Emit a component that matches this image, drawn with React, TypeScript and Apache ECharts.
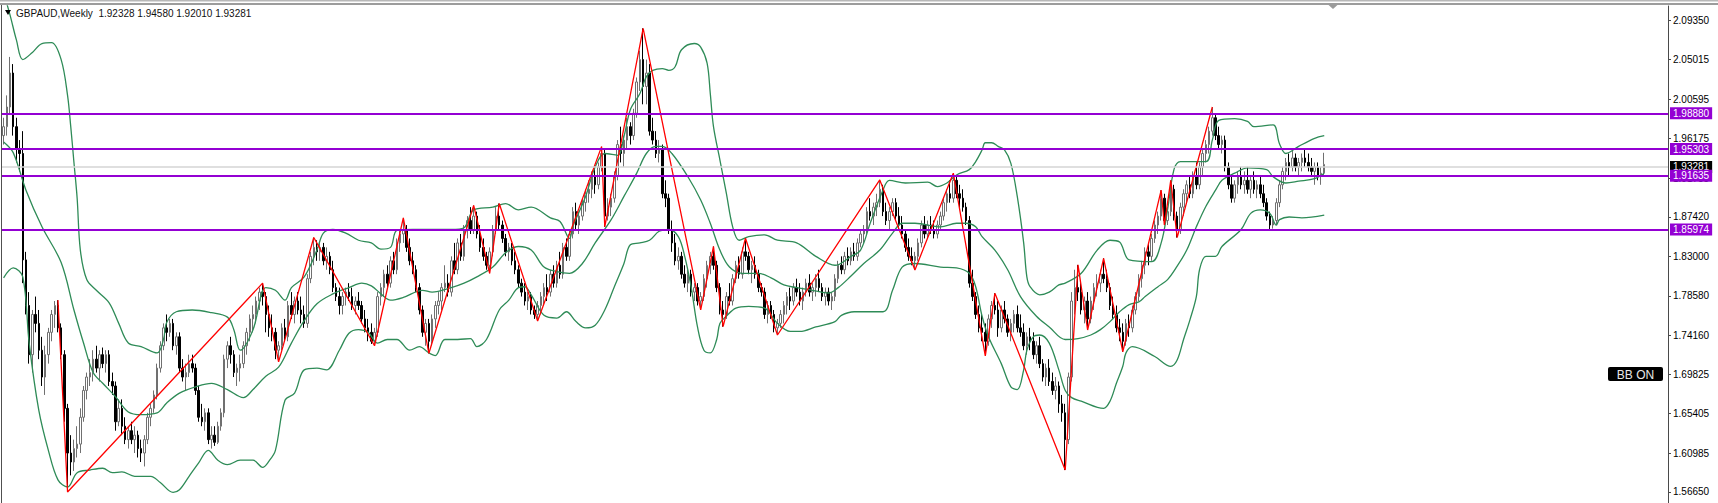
import React, { useEffect, useRef } from "react";
import * as echarts from "echarts";

// ---------- data ----------
const headerText = "GBPAUD,Weekly  1.92328 1.94580 1.92010 1.93281";

const opens = [
1.965,1.975,1.997,2.035,1.975,1.950,1.945,1.826,1.775,1.720,
1.765,1.755,1.725,1.695,1.720,1.745,1.765,1.775,1.750,1.720,
1.660,1.610,1.600,1.615,1.620,1.650,1.680,1.695,1.700,1.715,
1.705,1.720,1.710,1.720,1.690,1.685,1.645,1.660,1.640,1.625,
1.635,1.625,1.630,1.615,1.610,1.625,1.650,1.660,1.675,1.705,
1.730,1.750,1.745,1.755,1.730,1.740,1.705,1.695,1.700,1.710,
1.705,1.680,1.650,1.645,1.655,1.625,1.630,1.622,1.640,1.655,
1.715,1.730,1.720,1.700,1.705,1.710,1.730,1.745,1.760,1.765,
1.780,1.790,1.785,1.765,1.750,1.745,1.725,1.730,1.750,1.740,
1.775,1.765,1.780,1.770,1.765,1.755,1.805,1.830,1.840,1.835,
1.840,1.825,1.830,1.815,1.795,1.785,1.775,1.785,1.790,1.785,
1.775,1.780,1.775,1.760,1.750,1.745,1.735,1.745,1.785,1.795,
1.810,1.800,1.825,1.815,1.845,1.855,1.860,1.840,1.825,1.815,
1.795,1.770,1.745,1.755,1.735,1.760,1.775,1.780,1.795,1.800,
1.790,1.825,1.815,1.845,1.830,1.860,1.870,1.860,1.875,1.855,
1.840,1.830,1.820,1.835,1.860,1.875,1.865,1.850,1.835,1.840,
1.825,1.815,1.800,1.790,1.780,1.785,1.770,1.765,1.775,1.785,
1.795,1.790,1.810,1.800,1.820,1.810,1.840,1.830,1.855,1.880,
1.865,1.875,1.890,1.900,1.905,1.920,1.910,1.930,1.945,1.875,
1.885,1.895,1.920,1.955,1.945,1.960,1.975,1.965,1.990,2.025,
2.050,2.020,2.035,1.970,1.960,1.945,1.950,1.900,1.895,1.860,
1.845,1.825,1.830,1.810,1.800,1.810,1.790,1.795,1.780,1.785,
1.805,1.820,1.830,1.820,1.795,1.770,1.765,1.785,1.780,1.805,
1.820,1.810,1.835,1.830,1.815,1.820,1.810,1.795,1.790,1.765,
1.775,1.765,1.750,1.755,1.765,1.775,1.785,1.780,1.795,1.790,
1.780,1.790,1.800,1.790,1.795,1.805,1.795,1.785,1.790,1.780,
1.785,1.805,1.820,1.815,1.830,1.825,1.835,1.830,1.845,1.855,
1.860,1.880,1.875,1.885,1.890,1.905,1.880,1.870,1.880,1.890,
1.875,1.865,1.855,1.840,1.830,1.825,1.830,1.845,1.865,1.855,
1.865,1.860,1.855,1.865,1.875,1.890,1.900,1.895,1.915,1.900,
1.895,1.885,1.870,1.800,1.785,1.765,1.750,1.745,1.735,1.760,
1.775,1.770,1.750,1.770,1.760,1.745,1.755,1.765,1.750,1.745,
1.730,1.740,1.735,1.720,1.730,1.710,1.695,1.705,1.690,1.680,
1.685,1.665,1.655,1.625,1.695,1.780,1.795,1.790,1.770,1.780,
1.760,1.780,1.795,1.800,1.810,1.805,1.795,1.775,1.765,1.750,
1.745,1.735,1.755,1.750,1.770,1.785,1.805,1.820,1.835,1.830,
1.850,1.865,1.875,1.895,1.870,1.880,1.905,1.875,1.860,1.885,
1.900,1.910,1.900,1.920,1.910,1.930,1.945,1.955,1.970,1.985,
1.965,1.955,1.960,1.930,1.910,1.895,1.910,1.920,1.910,1.915,
1.905,1.915,1.905,1.910,1.900,1.890,1.875,1.865,1.870,1.890,
1.910,1.925,1.935,1.930,1.940,1.930,1.935,1.940,1.935,1.930,
1.925,1.930,1.920,1.92328
];

const highs = [
1.985,2.010,2.053,2.045,1.985,1.960,1.970,1.835,1.790,1.770,
1.785,1.770,1.740,1.730,1.750,1.770,1.780,1.781,1.755,1.725,
1.665,1.630,1.625,1.640,1.660,1.685,1.700,1.715,1.725,1.730,
1.725,1.728,1.725,1.725,1.700,1.690,1.670,1.670,1.650,1.640,
1.645,1.640,1.635,1.625,1.630,1.655,1.665,1.680,1.710,1.735,
1.755,1.765,1.760,1.760,1.745,1.745,1.715,1.710,1.720,1.720,
1.710,1.685,1.665,1.660,1.660,1.640,1.640,1.645,1.660,1.720,
1.735,1.740,1.725,1.710,1.720,1.735,1.750,1.765,1.775,1.785,
1.795,1.800,1.790,1.775,1.765,1.750,1.735,1.755,1.760,1.780,
1.790,1.785,1.790,1.785,1.775,1.810,1.835,1.851,1.848,1.845,
1.845,1.840,1.835,1.825,1.800,1.795,1.790,1.795,1.800,1.795,
1.785,1.790,1.780,1.770,1.760,1.755,1.750,1.790,1.800,1.815,
1.820,1.830,1.835,1.850,1.860,1.873,1.865,1.850,1.835,1.820,
1.800,1.775,1.760,1.760,1.765,1.780,1.790,1.800,1.820,1.810,
1.830,1.845,1.850,1.855,1.865,1.875,1.885,1.887,1.880,1.865,
1.850,1.835,1.840,1.865,1.885,1.889,1.870,1.855,1.845,1.845,
1.835,1.820,1.805,1.800,1.790,1.790,1.775,1.780,1.790,1.800,
1.810,1.815,1.820,1.825,1.835,1.845,1.850,1.860,1.885,1.890,
1.880,1.895,1.905,1.915,1.925,1.930,1.935,1.9527,1.950,1.895,
1.900,1.925,1.960,1.975,1.965,1.985,1.980,1.995,2.030,2.060,
2.085,2.050,2.045,1.985,1.970,1.960,1.955,1.915,1.900,1.870,
1.855,1.840,1.835,1.820,1.815,1.815,1.800,1.800,1.790,1.810,
1.825,1.835,1.841,1.825,1.800,1.780,1.790,1.800,1.810,1.825,
1.830,1.840,1.8502,1.835,1.825,1.830,1.815,1.800,1.795,1.780,
1.780,1.770,1.760,1.770,1.780,1.790,1.795,1.800,1.805,1.800,
1.795,1.805,1.810,1.800,1.810,1.815,1.800,1.795,1.795,1.790,
1.810,1.825,1.830,1.835,1.840,1.840,1.845,1.850,1.860,1.865,
1.885,1.895,1.890,1.900,1.9154,1.910,1.890,1.885,1.895,1.895,
1.885,1.875,1.860,1.850,1.840,1.835,1.850,1.870,1.875,1.870,
1.875,1.870,1.870,1.880,1.895,1.905,1.915,1.923,1.920,1.910,
1.905,1.890,1.875,1.815,1.790,1.775,1.765,1.755,1.765,1.780,
1.7887,1.780,1.775,1.780,1.765,1.760,1.770,1.775,1.765,1.755,
1.745,1.750,1.745,1.735,1.740,1.715,1.710,1.715,1.700,1.695,
1.690,1.675,1.665,1.700,1.790,1.815,1.8204,1.800,1.785,1.790,
1.785,1.800,1.810,1.815,1.8278,1.815,1.800,1.785,1.775,1.760,
1.755,1.760,1.765,1.775,1.790,1.810,1.825,1.840,1.845,1.855,
1.870,1.880,1.904,1.900,1.885,1.915,1.910,1.880,1.890,1.905,
1.915,1.920,1.925,1.935,1.935,1.950,1.960,1.975,1.997,1.990,
1.975,1.965,1.965,1.935,1.920,1.915,1.925,1.930,1.925,1.930,
1.920,1.925,1.915,1.920,1.910,1.895,1.880,1.875,1.895,1.915,
1.930,1.940,1.945,1.950,1.945,1.940,1.945,1.950,1.945,1.940,
1.935,1.935,1.930,1.9458
];

const lows = [
1.955,1.965,1.990,1.965,1.935,1.925,1.800,1.765,1.710,1.700,
1.745,1.715,1.685,1.675,1.710,1.735,1.750,1.745,1.715,1.645,
1.5665,1.585,1.590,1.605,1.610,1.645,1.670,1.685,1.690,1.700,
1.690,1.705,1.700,1.685,1.675,1.635,1.640,1.630,1.620,1.615,
1.620,1.610,1.605,1.600,1.595,1.620,1.640,1.655,1.670,1.700,
1.725,1.735,1.740,1.725,1.720,1.700,1.690,1.680,1.695,1.700,
1.675,1.645,1.640,1.635,1.620,1.615,1.618,1.620,1.635,1.650,
1.705,1.710,1.695,1.685,1.690,1.705,1.720,1.735,1.745,1.755,
1.770,1.775,1.745,1.740,1.735,1.715,1.712,1.725,1.735,1.735,
1.760,1.755,1.765,1.755,1.750,1.750,1.800,1.820,1.825,1.825,
1.820,1.815,1.810,1.790,1.780,1.765,1.765,1.775,1.780,1.770,
1.765,1.770,1.755,1.745,1.735,1.732,1.730,1.740,1.775,1.785,
1.795,1.795,1.810,1.810,1.835,1.845,1.835,1.820,1.810,1.790,
1.765,1.740,1.730,1.7216,1.730,1.750,1.765,1.770,1.790,1.785,
1.785,1.810,1.810,1.825,1.825,1.850,1.855,1.855,1.850,1.835,
1.825,1.815,1.811,1.830,1.855,1.860,1.845,1.830,1.825,1.820,
1.810,1.795,1.785,1.775,1.770,1.765,1.760,1.7577,1.765,1.775,
1.780,1.785,1.795,1.795,1.805,1.805,1.825,1.825,1.850,1.860,
1.855,1.870,1.880,1.890,1.895,1.900,1.905,1.925,1.863,1.870,
1.875,1.890,1.915,1.935,1.930,1.950,1.955,1.960,1.985,2.015,
2.000,2.000,1.965,1.955,1.940,1.935,1.895,1.885,1.855,1.835,
1.820,1.815,1.805,1.795,1.790,1.785,1.780,1.775,1.770,1.780,
1.795,1.810,1.815,1.790,1.765,1.7513,1.760,1.775,1.775,1.800,
1.805,1.805,1.825,1.810,1.800,1.805,1.790,1.785,1.760,1.755,
1.760,1.745,1.742,1.750,1.755,1.765,1.770,1.775,1.785,1.775,
1.770,1.785,1.785,1.780,1.785,1.790,1.780,1.775,1.775,1.770,
1.780,1.800,1.810,1.810,1.820,1.820,1.825,1.825,1.840,1.845,
1.855,1.870,1.865,1.875,1.885,1.875,1.865,1.860,1.875,1.870,
1.860,1.850,1.835,1.825,1.820,1.8148,1.825,1.840,1.850,1.850,
1.855,1.850,1.850,1.860,1.870,1.880,1.890,1.890,1.895,1.885,
1.880,1.865,1.795,1.780,1.760,1.745,1.735,1.7186,1.730,1.750,
1.765,1.740,1.745,1.755,1.740,1.735,1.745,1.745,1.740,1.725,
1.720,1.725,1.715,1.710,1.705,1.690,1.685,1.685,1.675,1.670,
1.655,1.645,1.591,1.620,1.690,1.765,1.780,1.765,1.755,1.7476,
1.755,1.770,1.785,1.790,1.800,1.790,1.770,1.760,1.745,1.735,
1.7233,1.730,1.740,1.745,1.765,1.780,1.795,1.810,1.820,1.825,
1.845,1.855,1.870,1.865,1.865,1.875,1.870,1.851,1.855,1.875,
1.890,1.895,1.895,1.905,1.905,1.920,1.935,1.945,1.965,1.960,
1.950,1.945,1.925,1.905,1.890,1.890,1.900,1.905,1.900,1.900,
1.895,1.900,1.895,1.895,1.885,1.870,1.860,1.861,1.865,1.885,
1.905,1.915,1.920,1.925,1.925,1.920,1.925,1.930,1.925,1.920,
1.910,1.915,1.910,1.9201
];

const closes = [
1.975,1.997,2.035,1.975,1.950,1.945,1.826,1.775,1.720,1.765,
1.755,1.725,1.695,1.720,1.745,1.765,1.775,1.750,1.720,1.660,
1.610,1.600,1.615,1.620,1.650,1.680,1.695,1.700,1.715,1.705,
1.720,1.710,1.720,1.690,1.685,1.645,1.660,1.640,1.625,1.635,
1.625,1.630,1.615,1.610,1.625,1.650,1.660,1.675,1.705,1.730,
1.750,1.745,1.755,1.730,1.740,1.705,1.695,1.700,1.710,1.705,
1.680,1.650,1.645,1.655,1.625,1.630,1.622,1.640,1.655,1.715,
1.730,1.720,1.700,1.705,1.710,1.730,1.745,1.760,1.765,1.780,
1.790,1.785,1.765,1.750,1.745,1.725,1.730,1.750,1.740,1.775,
1.765,1.780,1.770,1.765,1.755,1.805,1.830,1.840,1.835,1.840,
1.825,1.830,1.815,1.795,1.785,1.775,1.785,1.790,1.785,1.775,
1.780,1.775,1.760,1.750,1.745,1.735,1.745,1.785,1.795,1.810,
1.800,1.825,1.815,1.845,1.855,1.860,1.840,1.825,1.815,1.795,
1.770,1.745,1.755,1.735,1.760,1.775,1.780,1.795,1.800,1.790,
1.825,1.815,1.845,1.830,1.860,1.870,1.860,1.875,1.855,1.840,
1.830,1.820,1.835,1.860,1.875,1.865,1.850,1.835,1.840,1.825,
1.815,1.800,1.790,1.780,1.785,1.770,1.765,1.775,1.785,1.795,
1.790,1.810,1.800,1.820,1.810,1.840,1.830,1.855,1.880,1.865,
1.875,1.890,1.900,1.905,1.920,1.910,1.930,1.945,1.875,1.885,
1.895,1.920,1.955,1.945,1.960,1.975,1.965,1.990,2.025,2.050,
2.020,2.035,1.970,1.960,1.945,1.950,1.900,1.895,1.860,1.845,
1.825,1.830,1.810,1.800,1.810,1.790,1.795,1.780,1.785,1.805,
1.820,1.830,1.820,1.795,1.770,1.765,1.785,1.780,1.805,1.820,
1.810,1.835,1.830,1.815,1.820,1.810,1.795,1.790,1.765,1.775,
1.765,1.750,1.755,1.765,1.775,1.785,1.780,1.795,1.790,1.780,
1.790,1.800,1.790,1.795,1.805,1.795,1.785,1.790,1.780,1.785,
1.805,1.820,1.815,1.830,1.825,1.835,1.830,1.845,1.855,1.860,
1.880,1.875,1.885,1.890,1.905,1.880,1.870,1.880,1.890,1.875,
1.865,1.855,1.840,1.830,1.825,1.830,1.845,1.865,1.855,1.865,
1.860,1.855,1.865,1.875,1.890,1.900,1.895,1.915,1.900,1.895,
1.885,1.870,1.800,1.785,1.765,1.750,1.745,1.735,1.760,1.775,
1.770,1.750,1.770,1.760,1.745,1.755,1.765,1.750,1.745,1.730,
1.740,1.735,1.720,1.730,1.710,1.695,1.705,1.690,1.680,1.685,
1.665,1.655,1.625,1.695,1.780,1.795,1.790,1.770,1.780,1.760,
1.780,1.795,1.800,1.810,1.805,1.795,1.775,1.765,1.750,1.745,
1.735,1.755,1.750,1.770,1.785,1.805,1.820,1.835,1.830,1.850,
1.865,1.875,1.895,1.870,1.880,1.905,1.875,1.860,1.885,1.900,
1.910,1.900,1.920,1.910,1.930,1.945,1.955,1.970,1.985,1.965,
1.955,1.960,1.930,1.910,1.895,1.910,1.920,1.910,1.915,1.905,
1.915,1.905,1.910,1.900,1.890,1.875,1.865,1.870,1.890,1.910,
1.925,1.935,1.930,1.940,1.930,1.935,1.940,1.935,1.930,1.925,
1.930,1.920,1.923,1.93281
];

// Bollinger bands: [bar index, price]
const bbUpper = [
[0,2.125],[2,2.100],[4,2.072],[6,2.050],[9,2.058],[12,2.068],[15,2.069],[18,2.050],[20,2.010],[21,1.975],
[22,1.935],[23,1.895],[24,1.837],[26,1.804],[29,1.792],[33,1.778],[36,1.755],[39,1.733],[43,1.729],[48,1.722],
[50,1.737],[51,1.756],[54,1.768],[59,1.770],[65,1.767],[70,1.762],[72,1.748],[74,1.725],[78,1.748],[82,1.795],
[85,1.792],[88,1.781],[90,1.795],[94,1.807],[98,1.837],[100,1.856],[103,1.860],[107,1.856],[111,1.848],[115,1.845],
[118,1.838],[121,1.840],[123,1.859],[128,1.860],[134,1.860],[140,1.860],[144,1.862],[147,1.882],[153,1.885],[157,1.889],
[161,1.882],[165,1.885],[171,1.873],[174,1.869],[177,1.850],[178,1.863],[182,1.897],[185,1.930],[188,1.945],[192,1.943],
[194,1.964],[196,1.994],[199,2.012],[201,2.031],[203,2.038],[206,2.040],[208,2.038],[210,2.042],[212,2.061],[216,2.068],
[218,2.064],[220,2.046],[221,2.012],[222,1.975],[224,1.938],[226,1.901],[228,1.863],[230,1.848],[233,1.852],[238,1.854],
[242,1.848],[248,1.845],[254,1.830],[260,1.820],[265,1.830],[268,1.837],[271,1.867],[275,1.904],[277,1.915],[282,1.912],
[289,1.913],[292,1.908],[295,1.912],[298,1.921],[302,1.927],[304,1.936],[306,1.949],[307,1.957],[309,1.957],[311,1.953],
[313,1.949],[315,1.934],[317,1.897],[319,1.845],[320,1.807],[321,1.796],[324,1.787],[327,1.790],[330,1.798],[332,1.800],
[337,1.811],[342,1.837],[346,1.848],[349,1.846],[352,1.826],[359,1.824],[362,1.845],[364,1.882],[366,1.927],[368,1.936],
[376,1.936],[378,1.960],[380,1.982],[385,1.984],[389,1.981],[391,1.975],[397,1.977],[399,1.956],[401,1.945],[405,1.953],
[410,1.962],[413,1.965]
];

const bbMiddle = [
[0,1.958],[3,1.946],[7,1.904],[12,1.863],[18,1.823],[22,1.770],[25,1.733],[28,1.700],[31,1.688],[35,1.673],
[39,1.656],[43,1.653],[48,1.655],[51,1.666],[55,1.677],[60,1.684],[65,1.688],[70,1.681],[75,1.672],[78,1.681],
[82,1.696],[86,1.706],[90,1.733],[94,1.758],[98,1.777],[103,1.788],[108,1.795],[112,1.800],[115,1.797],[118,1.788],
[121,1.781],[125,1.784],[131,1.792],[134,1.790],[140,1.795],[144,1.800],[148,1.807],[153,1.818],[157,1.834],[161,1.841],
[165,1.837],[169,1.818],[173,1.813],[177,1.811],[181,1.822],[185,1.845],[190,1.871],[194,1.897],[198,1.923],[201,1.945],
[204,1.953],[206,1.953],[209,1.945],[214,1.919],[218,1.893],[221,1.867],[224,1.837],[227,1.818],[231,1.811],[236,1.811],
[240,1.806],[244,1.798],[248,1.795],[253,1.792],[258,1.789],[261,1.795],[265,1.808],[269,1.822],[274,1.837],[278,1.856],
[281,1.867],[285,1.867],[293,1.863],[298,1.867],[301,1.867],[304,1.863],[306,1.852],[310,1.837],[314,1.815],[318,1.785],
[323,1.763],[327,1.751],[332,1.737],[336,1.738],[340,1.742],[343,1.748],[346,1.757],[349,1.768],[352,1.776],[355,1.779],
[357,1.785],[361,1.796],[364,1.804],[367,1.819],[370,1.837],[373,1.863],[376,1.886],[379,1.904],[381,1.915],[385,1.923],
[389,1.929],[395,1.927],[397,1.919],[401,1.912],[405,1.914],[410,1.917],[413,1.923]
];

const bbLower = [
[0,1.806],[3,1.817],[6,1.807],[8,1.733],[11,1.658],[14,1.613],[17,1.580],[20,1.572],[23,1.588],[27,1.591],
[31,1.593],[34,1.588],[37,1.589],[41,1.584],[46,1.584],[49,1.577],[53,1.566],[55,1.569],[58,1.584],[61,1.599],
[64,1.613],[67,1.602],[70,1.597],[74,1.602],[78,1.602],[81,1.594],[83,1.601],[85,1.613],[88,1.669],[91,1.677],
[94,1.703],[98,1.705],[101,1.703],[105,1.725],[108,1.744],[111,1.748],[114,1.745],[117,1.733],[120,1.737],[123,1.737],
[127,1.725],[130,1.729],[133,1.722],[135,1.719],[138,1.737],[142,1.737],[146,1.738],[148,1.729],[151,1.737],[155,1.770],
[158,1.781],[161,1.795],[163,1.796],[165,1.787],[169,1.764],[173,1.761],[176,1.768],[179,1.757],[182,1.750],[185,1.753],
[188,1.770],[191,1.796],[194,1.822],[196,1.843],[199,1.845],[202,1.848],[205,1.858],[208,1.860],[211,1.852],[213,1.830],
[215,1.796],[217,1.751],[219,1.725],[221,1.722],[223,1.737],[224,1.755],[226,1.763],[229,1.772],[233,1.774],[238,1.772],
[242,1.755],[246,1.746],[249,1.746],[254,1.751],[260,1.757],[262,1.764],[266,1.768],[275,1.768],[278,1.792],[281,1.818],
[285,1.822],[293,1.818],[298,1.817],[302,1.811],[304,1.796],[306,1.763],[308,1.740],[312,1.710],[315,1.684],[317,1.681],
[319,1.703],[320,1.725],[322,1.740],[324,1.742],[327,1.733],[330,1.703],[332,1.680],[334,1.672],[337,1.668],[344,1.660],
[346,1.668],[348,1.688],[350,1.707],[351,1.722],[353,1.729],[360,1.718],[365,1.707],[367,1.714],[369,1.737],[371,1.759],
[373,1.785],[374,1.815],[376,1.830],[379,1.830],[381,1.841],[387,1.860],[390,1.878],[393,1.882],[396,1.878],[398,1.865],
[399,1.871],[402,1.874],[406,1.873],[413,1.876]
];

// ZigZag pivots: [bar index, price]
const zigzag = [
[17,1.781],[20,1.5665],[81,1.800],[86,1.712],[97,1.851],[116,1.730],[125,1.873],[133,1.7216],[147,1.887],[152,1.811],
[155,1.889],[167,1.7577],[187,1.9527],[188,1.863],[200,2.085],[218,1.770],[222,1.841],[225,1.7513],[232,1.8502],[242,1.742],
[274,1.9154],[285,1.8148],[297,1.923],[307,1.7186],[310,1.7887],[332,1.591],[336,1.8204],[339,1.7476],[344,1.8278],[350,1.7233],
[362,1.904],[363,1.865],[365,1.915],[367,1.851],[378,1.997]
];

const levels = [1.9888, 1.95303, 1.91635, 1.85974];
const levelLabels = ["1.98880", "1.95303", "1.91635", "1.85974"];
const lastPrice = 1.93281;
const lastPriceLabel = "1.93281";
const tickValues = [2.0935, 2.05015, 2.00595, 1.96175, 1.91755, 1.8742, 1.83, 1.7858, 1.7416, 1.69825, 1.65405, 1.60985, 1.5665];
const indicatorLabel = "BB ON";

// ---------- layout ----------
const W = 1718;
const H = 503;
const SLOTS = 521;
const Y_MIN = 1.55413;
const Y_MAX = 2.10996;
const FONT = "'Liberation Sans', Arial, sans-serif";
const PURPLE = "#9400d3";
const GREEN = "#2e8b57";

export default function App() {
  const ref = useRef<HTMLDivElement>(null);

  useEffect(() => {
    document.body.style.margin = "0";
    const chart = echarts.init(ref.current as HTMLDivElement, null, { renderer: "svg" });
    const cats = Array.from({ length: SLOTS }, (_, i) => String(i));
    const candles = closes.map((c, i) => [opens[i], c, lows[i], highs[i]]);

    const bandSeries = (name: string, data: number[][]) => ({
      name,
      type: "line",
      data,
      showSymbol: false,
      symbol: "none",
      smooth: 0.35,
      silent: true,
      z: 3,
      lineStyle: { color: GREEN, width: 1.3 },
    });

    const option: any = {
      animation: false,
      backgroundColor: "#ffffff",
      grid: { left: 2, right: 50, top: 6, bottom: 0, containLabel: false, outerBoundsMode: "none" },
      xAxis: {
        type: "category",
        data: cats,
        boundaryGap: true,
        show: false,
      },
      yAxis: {
        type: "value",
        position: "right",
        min: Y_MIN,
        max: Y_MAX,
        splitLine: { show: false },
        axisLine: { show: true, lineStyle: { color: "#4a4a4a", width: 1 } },
        axisTick: {
          show: true,
          length: 3,
          customValues: tickValues,
          lineStyle: { color: "#4a4a4a" },
        },
        axisLabel: {
          show: true,
          customValues: tickValues,
          formatter: (v: number) => v.toFixed(5),
          color: "#000",
          fontSize: 10,
          fontFamily: FONT,
          margin: 5,
        },
      },
      series: [
        {
          name: "price",
          type: "candlestick",
          data: candles,
          barWidth: 2,
          silent: true,
          z: 2,
          itemStyle: {
            color: "#ffffff",
            color0: "#000000",
            borderColor: "#707070",
            borderColor0: "#000000",
            borderWidth: 1,
          },
          markLine: {
            silent: true,
            symbol: ["none", "none"],
            animation: false,
            data: [
              {
                yAxis: lastPrice,
                lineStyle: { color: "#d4d4d4", width: 1.5, type: "solid" },
                label: {
                  show: true,
                  position: "end",
                  distance: 2,
                  formatter: lastPriceLabel,
                  color: "#ffffff",
                  backgroundColor: "#000000",
                  padding: [1, 3, 1, 3],
                  fontSize: 10,
                  fontFamily: FONT,
                },
              },
            ],
          },
        },
        bandSeries("upper", bbUpper),
        bandSeries("middle", bbMiddle),
        bandSeries("lower", bbLower),
        {
          name: "zigzag",
          type: "line",
          data: zigzag,
          showSymbol: false,
          symbol: "none",
          silent: true,
          z: 4,
          lineStyle: { color: "#ff0000", width: 1.3 },
          markLine: {
            silent: true,
            symbol: ["none", "none"],
            animation: false,
            data: levels.map((v, k) => ({
              yAxis: v,
              lineStyle: { color: PURPLE, width: 2.2, type: "solid" },
              label: {
                show: true,
                position: "end",
                distance: 2,
                formatter: levelLabels[k],
                color: "#ffffff",
                backgroundColor: PURPLE,
                padding: [1, 3, 1, 3],
                fontSize: 10,
                fontFamily: FONT,
              },
            })),
          },
        },
      ],
      graphic: [
        { type: "rect", shape: { x: 0, y: 0, width: W, height: 1.5 }, style: { fill: "#b8b8b8" }, silent: true, z: 10 },
        { type: "rect", shape: { x: 0, y: 3, width: W, height: 2 }, style: { fill: "#9c9c9c" }, silent: true, z: 10 },
        { type: "polygon", shape: { points: [[1328, 4.5], [1338, 4.5], [1333, 9]] }, style: { fill: "#9a9a9a" }, silent: true, z: 10 },
        { type: "line", shape: { x1: 1.5, y1: 5, x2: 1.5, y2: H }, style: { stroke: "#505050", lineWidth: 1 }, silent: true, z: 10 },
        { type: "polygon", shape: { points: [[5, 10], [11, 10], [8, 15]] }, style: { fill: "#000000" }, silent: true, z: 10 },
        {
          type: "text",
          x: 16,
          y: 13,
          style: { text: headerText, fill: "#111111", font: "10px " + FONT, textVerticalAlign: "middle", verticalAlign: "middle" },
          silent: true,
          z: 10,
        },
        {
          type: "group",
          x: 1608,
          y: 367,
          silent: true,
          z: 10,
          children: [
            { type: "rect", shape: { x: 0, y: 0, width: 55, height: 14, r: 2 }, style: { fill: "#000000" } },
            {
              type: "text",
              x: 27.5,
              y: 7.5,
              style: { text: indicatorLabel, fill: "#e8e8e8", font: "12px " + FONT, align: "center", verticalAlign: "middle" },
            },
          ],
        },
      ],
    };

    chart.setOption(option);
    return () => chart.dispose();
  }, []);

  return (
    <div
      ref={ref}
      style={{ position: "fixed", left: 0, top: 0, width: W, height: H, background: "#fff" }}
    />
  );
}
